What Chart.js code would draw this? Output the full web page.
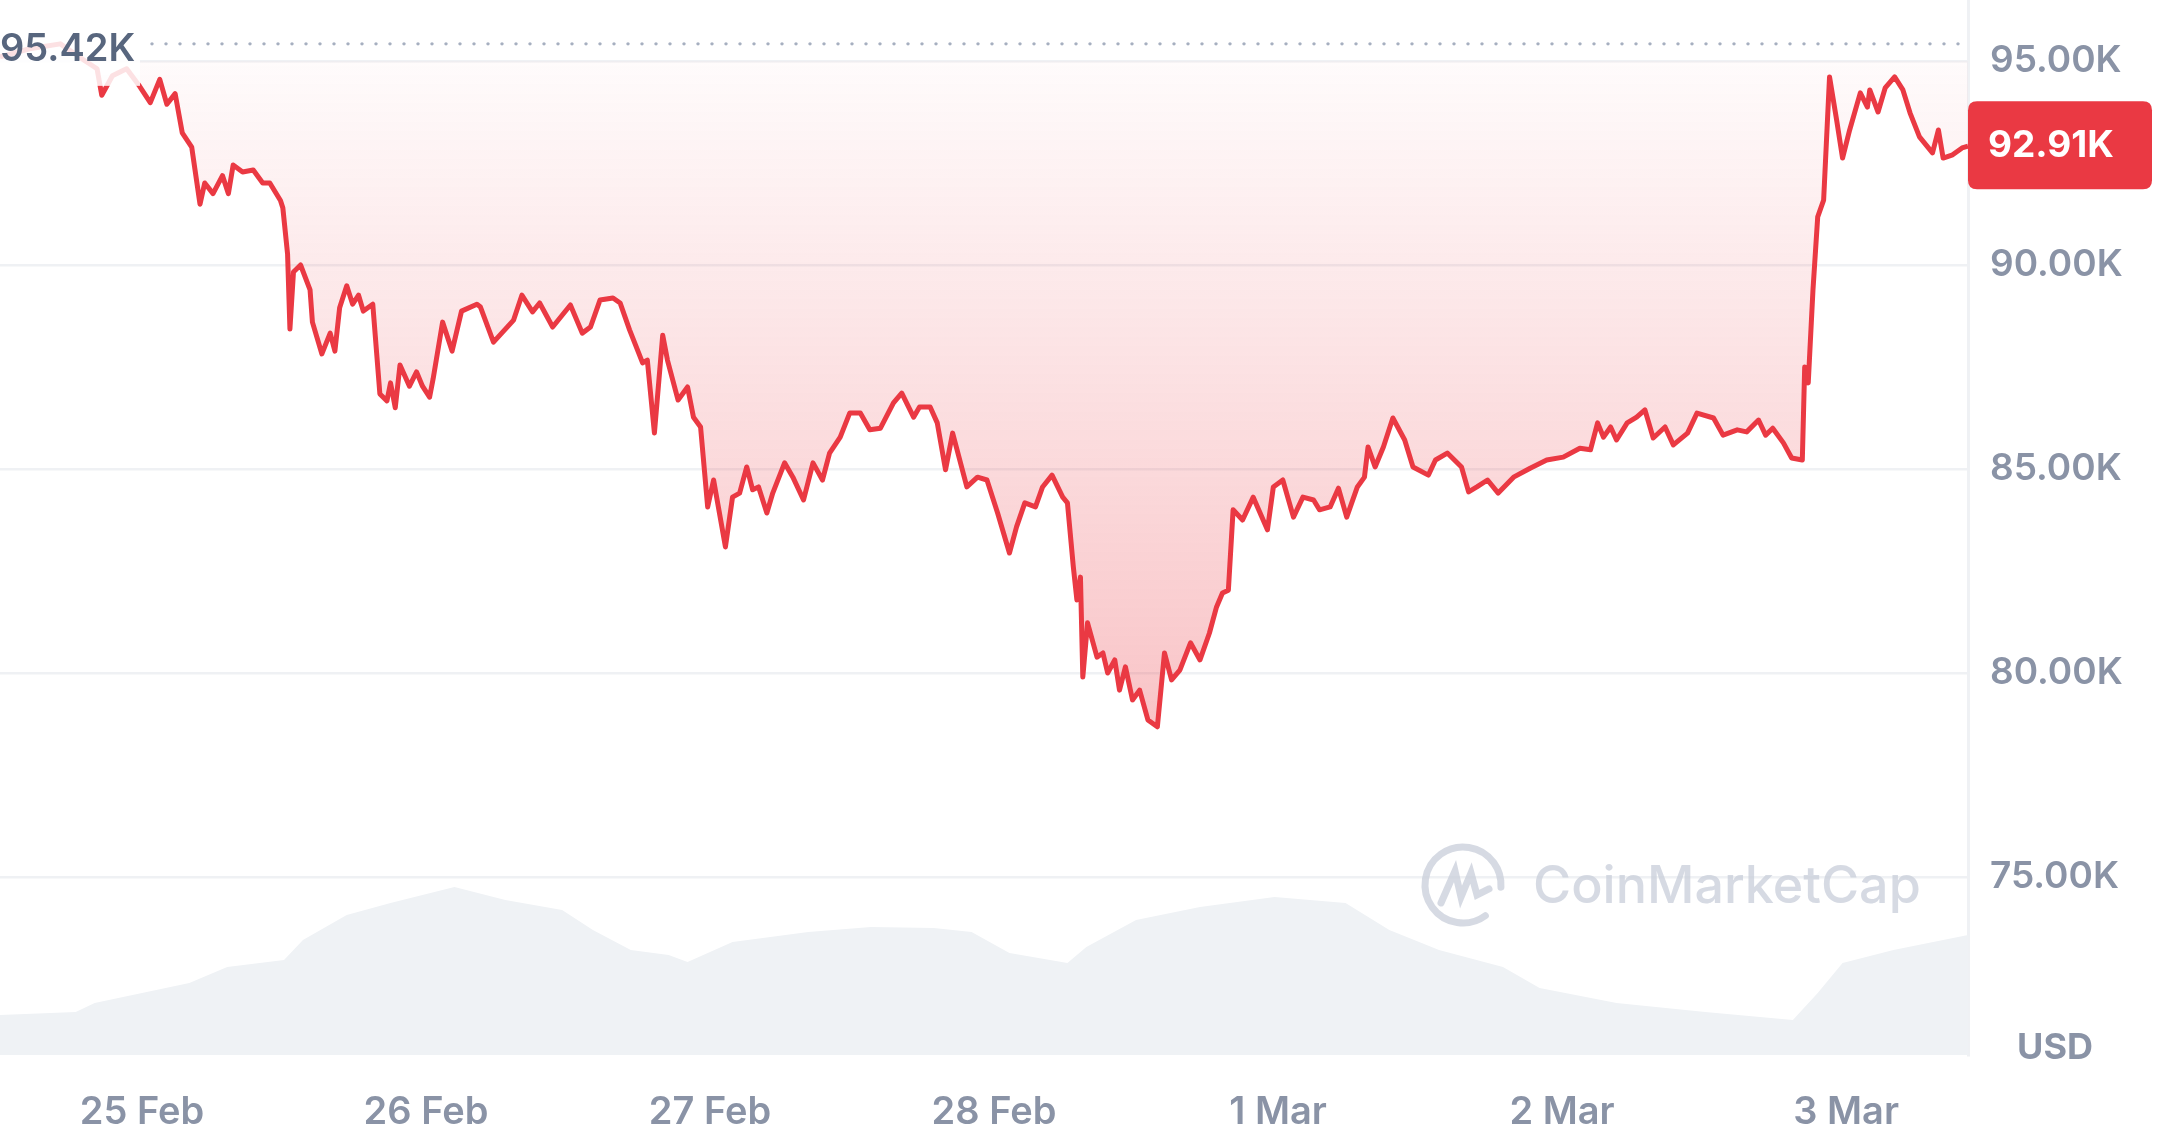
<!DOCTYPE html>
<html>
<head>
<meta charset="utf-8">
<script src="https://cdn.jsdelivr.net/npm/chart.js@4.4.1/dist/chart.umd.min.js"></script>
<style>
html, body { margin: 0; padding: 0; background: #fff; }
canvas { display: block; }
</style>
</head>
<body>
<canvas id="myChart" width="2160" height="1141"></canvas>
<script>
// BTC / USD, last 7 days. x values are hours counted from 24 Feb 00:00
var priceHours = [12.0, 14.5, 17.1, 19.2, 20.2, 20.6, 21.5, 22.7, 23.8, 24.7,
    25.5, 26.1, 26.8, 27.4, 28.2, 28.9, 29.3, 30.0, 30.8, 31.3,
    31.7, 32.5, 33.4, 34.2, 34.8, 35.7, 35.9, 36.3, 36.5, 36.8,
    37.4, 38.2, 38.4, 39.2, 39.9, 40.3, 40.7, 41.3, 41.8, 42.3,
    42.7, 43.5, 44.1, 44.7, 45.0, 45.4, 45.8, 46.6, 47.2, 47.7,
    48.3, 48.6, 49.4, 50.2, 51.0, 52.3, 52.6, 53.7, 55.4, 56.1,
    57.0, 57.6, 58.7, 60.2, 61.2, 61.9, 62.7, 63.8, 64.4, 65.2,
    66.3, 66.7, 67.3, 68.0, 68.4, 69.3, 70.1, 70.6, 71.2, 71.8,
    72.3, 73.3, 73.9, 74.5, 75.1, 75.6, 76.1, 76.8, 77.3, 78.3,
    79.0, 79.9, 80.7, 81.5, 82.1, 83.0, 83.8, 84.7, 85.5, 86.4,
    87.5, 88.2, 89.2, 89.7, 90.6, 91.2, 91.9, 92.5, 93.7, 94.6,
    95.4, 96.3, 97.3, 97.9, 98.6, 99.5, 100.1, 100.9, 101.8, 102.2,
    102.7, 103.0, 103.3, 103.5, 103.9, 104.7, 105.2, 105.6, 106.2, 106.6,
    107.1, 107.7, 108.3, 109.0, 109.8, 110.4, 111.0, 111.7, 112.6, 113.4,
    114.2, 114.8, 115.3, 115.8, 116.2, 117.0, 117.9, 119.1, 119.6, 120.4,
    121.3, 122.1, 123.0, 123.5, 124.4, 125.1, 125.8, 126.7, 127.3, 127.6,
    128.2, 128.9, 129.7, 130.7, 131.4, 132.7, 133.3, 134.3, 135.5, 136.1,
    136.8, 137.7, 138.6, 139.9, 141.3, 142.7, 144.1, 145.5, 146.4, 147.0,
    147.5, 148.1, 148.6, 149.5, 150.3, 151.0, 151.7, 152.7, 153.4, 154.6,
    155.4, 156.8, 157.6, 158.8, 159.6, 160.6, 161.2, 161.8, 162.7, 163.4,
    164.3, 164.5, 164.8, 165.2, 165.6, 166.1, 166.6, 167.2, 167.7, 168.3,
    169.2, 169.8, 170.0, 170.7, 171.3, 172.1, 172.8, 173.4, 174.2, 175.3,
    175.8, 176.2, 177.0, 177.8, 178.3];
var priceValues = [95100, 95300, 95420, 95000, 94810, 94160, 94640, 94810, 94380, 93980,
    94550, 93940, 94200, 93240, 92890, 91490, 92010, 91750, 92190, 91750,
    92450, 92280, 92330, 92010, 92010, 91580, 91400, 90270, 88430, 89830,
    90000, 89390, 88600, 87820, 88330, 87890, 88950, 89490, 89040, 89260,
    88870, 89040, 86840, 86670, 87110, 86500, 87550, 87030, 87380, 87030,
    86760, 87210, 88600, 87890, 88870, 89040, 88970, 88110, 88650, 89260,
    88850, 89070, 88480, 89020, 88330, 88480, 89140, 89190, 89070, 88410,
    87600, 87670, 85880, 88280, 87670, 86690, 87010, 86270, 86030, 84070,
    84730, 83090, 84310, 84410, 85050, 84490, 84560, 83920, 84410, 85150,
    84800, 84240, 85150, 84730, 85390, 85780, 86370, 86370, 85960, 86000,
    86620, 86860, 86270, 86520, 86520, 86130, 84980, 85880, 84560, 84800,
    84730, 83920, 82940, 83580, 84170, 84070, 84560, 84850, 84310, 84170,
    82600, 81790, 82350, 79900, 81230, 80390, 80490, 80000, 80320, 79580,
    80150, 79340, 79580, 78850, 78680, 80490, 79830, 80070, 80740, 80320,
    80980, 81620, 81960, 82030, 84000, 83750, 84310, 83510, 84560, 84730,
    83820, 84310, 84240, 84000, 84070, 84530, 83820, 84560, 84800, 85540,
    85050, 85540, 86250, 85710, 85050, 84850, 85220, 85390, 85050, 84440,
    84560, 84730, 84410, 84800, 85020, 85220, 85290, 85510, 85470, 86130,
    85780, 86030, 85710, 86130, 86270, 86450, 85760, 86030, 85590, 85880,
    86370, 86250, 85830, 85960, 85910, 86200, 85830, 86000, 85640, 85270,
    85220, 87500, 87110, 89390, 91180, 91590, 94610, 93550, 92620, 93310,
    94220, 93870, 94290, 93750, 94340, 94610, 94290, 93730, 93140, 92750,
    93310, 92620, 92700, 92870, 92910];

// 24h volume, billions USD
var volumeHours = [12.0, 18.4, 20.0, 28.0, 31.2, 36.0, 37.6, 41.3, 45.0, 50.4,
    54.7, 59.5, 62.1, 65.3, 68.5, 70.1, 73.9, 80.3, 85.6, 90.9,
    94.1, 97.3, 102.2, 103.8, 108.0, 113.4, 119.7, 125.7, 129.4, 133.6,
    139.0, 142.1, 148.6, 156.1, 163.5, 165.6, 167.7, 172.0, 178.3];
var volumeValues = [19.0, 20.4, 24.6, 34.1, 41.7, 45.0, 54.5, 66.4, 72.0, 79.6,
    73.5, 68.7, 59.3, 49.8, 47.4, 44.1, 53.6, 58.3, 60.7, 60.2,
    58.3, 48.3, 43.6, 51.2, 64.0, 70.2, 74.9, 72.0, 59.3, 49.8,
    41.7, 31.8, 24.6, 20.4, 16.6, 29.4, 43.6, 49.8, 56.9];

var xTickHours = [24, 48, 72, 96, 120, 144, 168];
var xTickLabels = ["25 Feb", "26 Feb", "27 Feb", "28 Feb", "1 Mar", "2 Mar", "3 Mar"];
var yTickValues = [75000, 80000, 85000, 90000, 95000];
var baseline = 95000;

var RED = '#ea3943';
var GREY = '#8a93a6';
var FONT = 'Inter, "Noto Sans", sans-serif';

function fmtK(v) {
    return (v / 1000).toFixed(2) + 'K';
}

function roundRect(ctx, x, y, w, h, r) {
    ctx.beginPath();
    ctx.moveTo(x + r, y);
    ctx.lineTo(x + w - r, y);
    ctx.quadraticCurveTo(x + w, y, x + w, y + r);
    ctx.lineTo(x + w, y + h - r);
    ctx.quadraticCurveTo(x + w, y + h, x + w - r, y + h);
    ctx.lineTo(x + r, y + h);
    ctx.quadraticCurveTo(x, y + h, x, y + h - r);
    ctx.lineTo(x, y + r);
    ctx.quadraticCurveTo(x, y, x + r, y);
    ctx.closePath();
}

var overlay = {
    id: 'overlay',
    afterDatasetsDraw: function (chart) {
        var ctx = chart.ctx;
        var area = chart.chartArea;
        var ys = chart.scales.y;

        // watermark
        ctx.save();
        var cx = area.right - 505, cy = ys.getPixelForValue(75000) + 8;
        ctx.strokeStyle = 'rgba(200,206,218,0.75)';
        ctx.lineWidth = 7;
        ctx.lineCap = 'round';
        ctx.beginPath();
        ctx.arc(cx, cy, 38, 0.3 * Math.PI, 2.05 * Math.PI - 0.1);
        ctx.stroke();
        ctx.beginPath();
        ctx.moveTo(cx - 22, cy + 18);
        ctx.lineTo(cx - 8, cy - 14);
        ctx.lineTo(cx - 2, cy + 12);
        ctx.lineTo(cx + 8, cy - 12);
        ctx.lineTo(cx + 14, cy + 10);
        ctx.lineTo(cx + 26, cy + 4);
        ctx.stroke();
        ctx.fillStyle = 'rgba(200,206,218,0.75)';
        ctx.font = '500 52px ' + FONT;
        ctx.textBaseline = 'middle';
        ctx.fillText('CoinMarketCap', cx + 70, cy + 2);
        ctx.restore();

        // dotted line at the period high
        var high = Math.max.apply(null, priceValues);
        var yHigh = ys.getPixelForValue(high);
        ctx.save();
        ctx.fillStyle = '#a6afc0';
        for (var x = 152; x < area.right; x += 14) {
            ctx.beginPath();
            ctx.arc(x, yHigh, 1.7, 0, 2 * Math.PI);
            ctx.fill();
        }
        ctx.fillStyle = 'rgba(255,255,255,0.85)';
        ctx.fillRect(0, yHigh - 32, 140, 74);
        ctx.fillStyle = '#58667e';
        ctx.font = '600 38px ' + FONT;
        ctx.textBaseline = 'middle';
        ctx.textAlign = 'left';
        ctx.fillText(fmtK(high), 0, yHigh + 6);
        ctx.restore();
    },
    afterDraw: function (chart) {
        var ctx = chart.ctx;
        var area = chart.chartArea;
        var ys = chart.scales.y;
        var last = priceValues[priceValues.length - 1];
        var yLast = ys.getPixelForValue(last);

        ctx.save();
        ctx.fillStyle = RED;
        roundRect(ctx, area.right, yLast - 45, 184, 88, 9);
        ctx.fill();
        ctx.fillStyle = '#ffffff';
        ctx.font = '700 37px ' + FONT;
        ctx.textBaseline = 'middle';
        ctx.textAlign = 'left';
        ctx.fillText(fmtK(last), area.right + 20, yLast);

        ctx.fillStyle = GREY;
        ctx.font = '700 36px ' + FONT;
        ctx.textAlign = 'center';
        ctx.fillText('USD', area.right + 87, area.bottom - 7);
        ctx.restore();
    }
};

Chart.defaults.font.family = FONT;

new Chart("myChart", {
    type: "line",
    data: {
        datasets: [{
            label: 'Price',
            data: priceHours.map(function (h, i) { return { x: h, y: priceValues[i] }; }),
            borderColor: RED,
            borderWidth: 5,
            borderJoinStyle: 'round',
            pointRadius: 0,
            tension: 0,
            yAxisID: 'y',
            order: 1,
            fill: { target: { value: baseline }, above: 'rgba(0,0,0,0)' },
            backgroundColor: function (context) {
                var chart = context.chart;
                if (!chart.chartArea) return 'rgba(234,57,67,0.1)';
                var ys = chart.scales.y;
                var g = chart.ctx.createLinearGradient(0, ys.getPixelForValue(baseline), 0, ys.getPixelForValue(78500));
                g.addColorStop(0, 'rgba(234,57,67,0.02)');
                g.addColorStop(1, 'rgba(234,57,67,0.30)');
                return g;
            }
        }, {
            label: 'Volume',
            data: volumeHours.map(function (h, i) { return { x: h, y: volumeValues[i] }; }),
            borderWidth: 0,
            pointRadius: 0,
            tension: 0,
            yAxisID: 'y2',
            order: 2,
            fill: 'origin',
            backgroundColor: '#eff2f5'
        }]
    },
    options: {
        responsive: false,
        animation: false,
        layout: { padding: 0 },
        plugins: {
            legend: { display: false },
            tooltip: { enabled: false }
        },
        scales: {
            x: {
                type: 'linear',
                min: 12,
                max: 178.3,
                grid: { display: false, drawTicks: false },
                border: { display: false },
                afterBuildTicks: function (scale) {
                    scale.ticks = xTickHours.map(function (h) { return { value: h }; });
                },
                afterFit: function (scale) {
                    scale.height = 86;
                    scale.paddingLeft = 0;
                    scale.paddingRight = 0;
                },
                ticks: {
                    padding: 35,
                    maxRotation: 0,
                    autoSkip: false,
                    color: GREY,
                    font: { size: 38, weight: '600' },
                    callback: function (value) {
                        var i = xTickHours.indexOf(value);
                        return i >= 0 ? xTickLabels[i] : '';
                    }
                }
            },
            y: {
                position: 'right',
                min: 70637,
                max: 96495,
                grid: { color: '#eff1f4', lineWidth: 2.5, drawTicks: false },
                border: { display: true, color: '#eff1f4', width: 3 },
                afterBuildTicks: function (scale) {
                    scale.ticks = yTickValues.map(function (v) { return { value: v }; });
                },
                afterFit: function (scale) {
                    scale.width = 192;
                    scale.paddingTop = 0;
                    scale.paddingBottom = 0;
                },
                ticks: {
                    padding: 22,
                    color: GREY,
                    font: { size: 37, weight: '600' },
                    callback: function (value) { return fmtK(value); }
                }
            },
            y2: {
                display: false,
                min: 0,
                max: 500
            }
        }
    },
    plugins: [overlay]
});
</script>
</body>
</html>
